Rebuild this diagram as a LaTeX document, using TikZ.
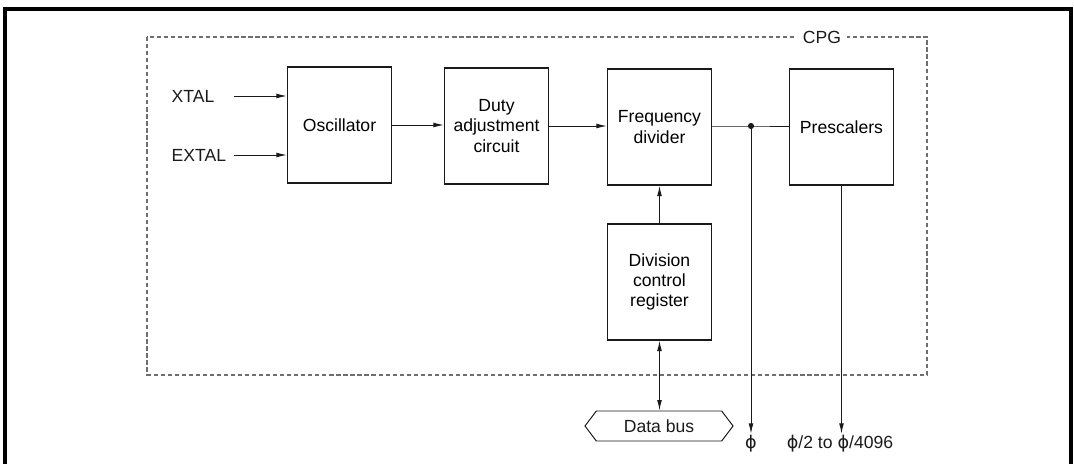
\documentclass[tikz,border=0pt]{standalone}
\usepackage{fontspec}
\setmainfont{Liberation Sans}
\newfontfamily\greekfont{DejaVu Sans}
\usepackage{xcolor}
\usepackage{tikz}
\usetikzlibrary{arrows.meta,shapes.symbols}
\tikzset{blk/.style={draw=blackmain,line width=0.9pt,minimum width=2.6cm,minimum height=2.9cm,align=center,inner sep=0pt},
arr/.style={-{Latex[length=2.6mm,width=1.2mm]},line width=0.7pt,blackmain},
wire/.style={line width=0.7pt,blackmain},
cpg/.style={graymuted,line width=0.8pt,dash pattern=on 3pt off 2pt},
lbl/.style={inner sep=1pt,text=blackmain}}
\definecolor{blackmain}{HTML}{1A1A1A}
\definecolor{graymuted}{HTML}{6E6E6E}
\newcommand{\ph}{{\greekfont ϕ}}

\begin{document}
\begin{tikzpicture}[x=0.025cm,y=-0.025cm,font=\fontsize{12.5}{14.5}\selectfont]
\useasboundingbox (0,0) rectangle (1074,464);
\draw[black,line width=2.2pt] (5,464) -- (5,9) -- (1071,9) -- (1071,464);
\draw[cpg] (147,37) rectangle (927,375);
\node[fill=white,lbl,inner sep=4pt] (cpglbl) at (822,37) {CPG};
\node[blk] (osc) at (339.5,125) {Oscillator};
\node[blk] (duty) at (496.5,126) {Duty\\adjustment\\circuit};
\node[blk] (freq) at (659.5,127) {Frequency\\divider};
\node[blk] (pre) at (841.5,127) {Prescalers};
\node[blk] (dcr) at (659.5,282) {Division\\control\\register};
\node[lbl,anchor=west] (xtal) at (170,96) {XTAL};
\node[lbl,anchor=west] (extal) at (170,155) {EXTAL};
\coordinate (xs) at (234,96);
\coordinate (es) at (234,155);
\draw[arr] (xs) -- (xs -| osc.west);
\draw[arr] (es) -- (es -| osc.west);
\draw[arr] (osc.east) -- (duty.west |- osc.east);
\draw[arr] (duty.east) -- (freq.west |- duty.east);
\fill[blackmain] (751,126) circle (2.2pt) coordinate (tap);
\draw[wire] (freq.east |- tap) -- (tap) -- (pre.west |- tap);
\draw[arr] (dcr.north) -- (freq.south);
\node[signal,signal to=west and east,signal pointer angle=106,draw=blackmain,line width=0.7pt,
minimum width=3.7cm,minimum height=0.75cm,lbl,inner sep=2pt] (bus) at (659,426) {Data bus};
\draw[arr,{Latex[length=2.6mm,width=1.2mm]}-{Latex[length=2.6mm,width=1.2mm]}] (bus.north -| dcr.south) -- (dcr.south);
\node[lbl] (phi) at (751,444) {\ph};
\node[lbl] (ratio) at (840,444) {\ph/2 to \ph/4096};
\draw[arr] (tap) -- (tap |- phi.north);
\draw[arr] (pre.south) -- (pre.south |- ratio.north);
\end{tikzpicture}
\end{document}
